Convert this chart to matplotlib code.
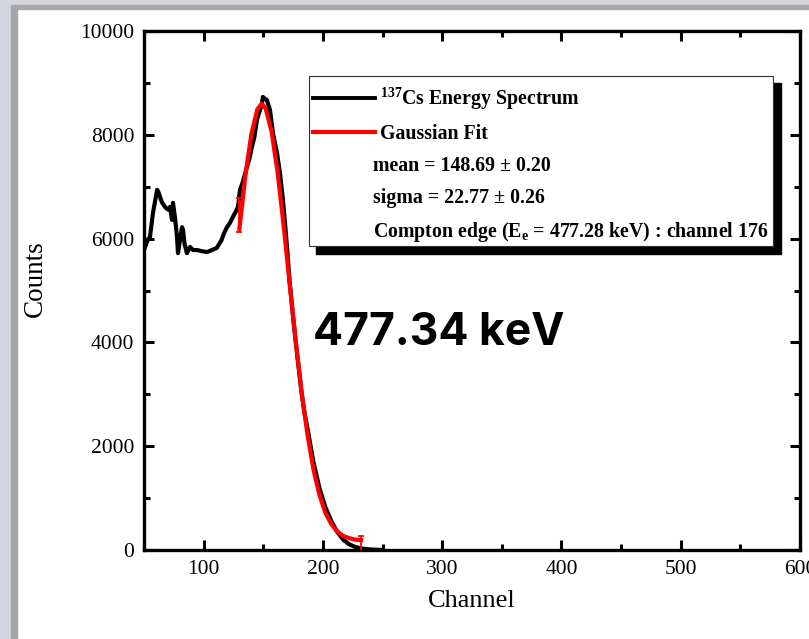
import numpy as np
import matplotlib
matplotlib.use("Agg")
import matplotlib.pyplot as plt
from matplotlib.lines import Line2D
from matplotlib.patches import Rectangle
from matplotlib.ticker import MultipleLocator

plt.rcParams['font.family'] = ['Liberation Serif', 'DejaVu Serif']
plt.rcParams['mathtext.fontset'] = 'custom'
plt.rcParams['mathtext.rm'] = 'Liberation Serif'
plt.rcParams['mathtext.bf'] = 'Liberation Serif:bold'

# 137Cs spectrum
channel = [50, 53, 55, 57.5, 61, 62, 65, 67.6, 70, 71.8, 73.5, 74.3, 76, 77.7, 78.5,
           80, 81.9, 82.7, 84, 86, 88.6, 91, 94.4, 98, 102.8, 107, 111, 115, 117,
           119.6, 122, 124.6, 126.5, 128.8, 130.5, 133, 136.3, 138.5, 140.5, 142.5,
           144.7, 147.2, 148.5, 149.7, 151, 153, 155.6, 158.1, 161.5, 164, 166.5,
           168.2, 170, 172, 174.5, 177, 180, 182, 184.5, 187, 192, 197, 202, 207,
           212, 217, 222, 227, 232, 240, 250]
counts = [5780, 5970, 6030, 6490, 6940, 6900, 6700, 6610, 6560, 6610, 6360, 6690, 6400,
          6030, 5720, 5950, 6220, 6170, 5900, 5720, 5840, 5780, 5780, 5760, 5740, 5780,
          5820, 5970, 6100, 6220, 6300, 6420, 6500, 6610, 6940, 7100, 7380, 7550, 7770,
          7950, 8290, 8480, 8550, 8730, 8700, 8670, 8480, 8030, 7650, 7260, 6740, 6300,
          5800, 5200, 4600, 4050, 3450, 3050, 2650, 2350, 1700, 1200, 830, 560, 350,
          200, 110, 60, 30, 10, 0]

# gaussian fit curve
fit_ch = [130, 135, 140, 145, 148.7, 152, 157, 162, 167, 172, 177, 182, 187, 192,
          197, 202, 207, 212, 217, 222, 227, 232]
fit_counts = [6190, 7210, 8010, 8490, 8600, 8510, 8060, 7280, 6270, 5160, 4070, 3070,
              2230, 1560, 1070, 720, 500, 360, 270, 230, 200, 190]

# error bars at the ends of the fit
err_ch = [130, 232]
err_counts = [6450, 20]
err_size = [330, 250]

fig = plt.figure(figsize=(8.09, 6.39), dpi=100)
ax = fig.add_axes([144 / 809, 1 - 550 / 639, 656 / 809, 519 / 639])

ax.plot(channel, counts, color='black', lw=3.0, zorder=3)
ax.plot(fit_ch, fit_counts, color='red', lw=3.0, zorder=4)
ax.errorbar(err_ch, err_counts, yerr=err_size, fmt='none', ecolor='red',
            elinewidth=1.3, capsize=2.5, capthick=1.3, zorder=4)

ax.set_xlim(50, 600)
ax.set_ylim(0, 10000)
ax.xaxis.set_major_locator(MultipleLocator(100))
ax.xaxis.set_minor_locator(MultipleLocator(50))
ax.yaxis.set_major_locator(MultipleLocator(2000))
ax.yaxis.set_minor_locator(MultipleLocator(1000))
ax.tick_params(which='both', direction='in', top=True, right=True, width=2.2,
               labelsize=15.5, pad=7)
ax.tick_params(which='major', length=7)
ax.tick_params(which='minor', length=4)
for s in ax.spines.values():
    s.set_linewidth(2.4)

ax.set_xlabel('Channel', fontsize=19, labelpad=8)
ax.set_ylabel('Counts', fontsize=19.5)
ax.yaxis.set_label_coords(-0.146, 0.522)

# legend with custom frame and hard black shadow
handles = [Line2D([], [], color='black', lw=2.8),
           Line2D([], [], color='red', lw=3.0),
           Line2D([], [], color='none'),
           Line2D([], [], color='none'),
           Line2D([], [], color='none')]
labels = [r'$^{\mathbf{137}}$Cs Energy Spectrum',
          'Gaussian Fit',
          'mean = 148.69 ± 0.20',
          'sigma = 22.77 ± 0.26',
          r'Compton edge $\mathbf{(E_e}$ = 477.28 keV$\mathbf{)}$ : channel 176']
leg = fig.legend(handles, labels, loc='upper left',
                 bbox_to_anchor=(313 / 809, 1 - 85 / 639),
                 frameon=False, prop={'weight': 'bold', 'size': 14.3},
                 handlelength=3.1, handletextpad=0.25, labelspacing=0.6,
                 borderaxespad=0, borderpad=0)
for t in leg.get_texts()[2:]:
    t.set_x(-7)

fig.add_artist(Rectangle((316 / 809, 1 - 254 / 639), 465 / 809, 171 / 639,
                         transform=fig.transFigure, color='black', zorder=5))
fig.add_artist(Rectangle((309 / 809, 1 - 246 / 639), 464 / 809, 170 / 639,
                         transform=fig.transFigure, facecolor='white',
                         edgecolor='#333333', lw=0.8, zorder=6))
leg.set_zorder(7)

fig.text(313 / 809, 1 - 345 / 639, '477.34 keV', fontsize=32, fontweight='bold',
         family=['Inter', 'DejaVu Sans'], va='baseline', ha='left')

# grey screenshot border on the left and top
fig.add_artist(Rectangle((0, 0), 11 / 809, 1, transform=fig.transFigure,
                         color='#d2d6dc', zorder=0))
fig.add_artist(Rectangle((11 / 809, 0), 6 / 809, 1, transform=fig.transFigure,
                         color='#a6a6a6', zorder=0))
fig.add_artist(Rectangle((0, 1 - 5 / 639), 1, 5 / 639, transform=fig.transFigure,
                         color='#d2d6dc', zorder=0))
fig.add_artist(Rectangle((11 / 809, 1 - 9 / 639), 1, 4 / 639,
                         transform=fig.transFigure, color='#a6a6a6', zorder=0))

fig.savefig('out.png', dpi=100)
